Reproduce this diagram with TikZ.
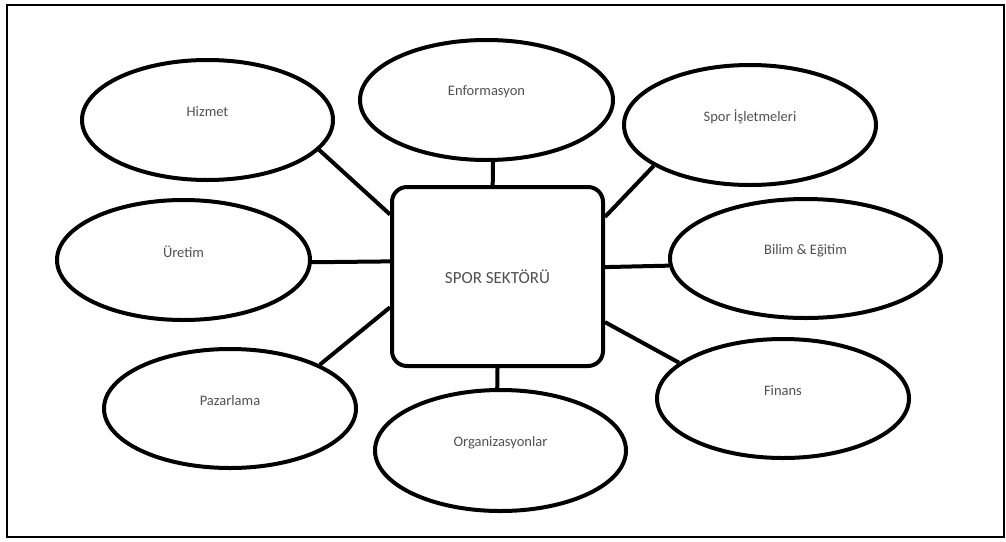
\documentclass[tikz,border=0pt]{standalone}
\usepackage{fontspec}
\setmainfont{Carlito}
\usetikzlibrary{shapes.geometric}
\definecolor{txtgray}{HTML}{505050}
\tikzset{
  oval/.style={draw=black, ellipse, line width=4pt, inner sep=0pt},
  hub/.style={draw=black, rectangle, rounded corners=15pt, line width=4pt, inner sep=0pt,
              minimum width=211pt, minimum height=179pt, text=txtgray,
              font=\fontsize{17}{20}\selectfont},
  lab/.style={text=txtgray, font=\fontsize{14.5}{17}\selectfont, yshift=8pt},
  link/.style={draw=black, line width=4pt},
  frame/.style={draw=black, line width=2.5pt}
}
\begin{document}
\begin{tikzpicture}[x=1pt,y=-1pt]
\useasboundingbox (0,0) rectangle (1006,541);
\draw[frame] (7,5) rectangle (1004,537);
\node[hub] (box) at (497.5,276.5) {SPOR SEKTÖRÜ};
\node[oval, minimum width=251pt, minimum height=120pt, label={[lab]center:Hizmet}] (hiz) at (207.5,120) {};
\node[oval, minimum width=253pt, minimum height=120pt, label={[lab]center:Enformasyon}] (enf) at (486.5,100) {};
\node[oval, minimum width=252pt, minimum height=120pt, label={[lab]center:Spor İşletmeleri}] (isl) at (750,125) {};
\node[oval, minimum width=253pt, minimum height=120pt, label={[lab]center:Üretim}] (ure) at (183.5,260) {};
\node[oval, minimum width=271pt, minimum height=119pt, label={[lab]center:Bilim \& Eğitim}] (bil) at (805.5,258.5) {};
\node[oval, minimum width=252pt, minimum height=119pt, label={[lab]center:Pazarlama}] (paz) at (230,408.5) {};
\node[oval, minimum width=252pt, minimum height=119pt, label={[lab]center:Finans}] (fin) at (783,398.5) {};
\node[oval, minimum width=251pt, minimum height=121pt, label={[lab]center:Organizasyonlar}] (org) at (500.5,450.5) {};
\draw[link] (hiz.-15.6) -- (box.150.2);
\draw[link] (enf.-84.8) -- (box.93.5);
\draw[link] (isl.203.2) -- (box.29.4);
\draw[link] (ure.-1) -- (box.172.2);
\draw[link] (bil.183.6) -- (box.5.1);
\draw[link] (paz.26.1) -- (box.196.6);
\draw[link] (fin.161.8) -- (box.-23.8);
\draw[link] (org.93.3) -- (box.-90.3);
\end{tikzpicture}
\end{document}
